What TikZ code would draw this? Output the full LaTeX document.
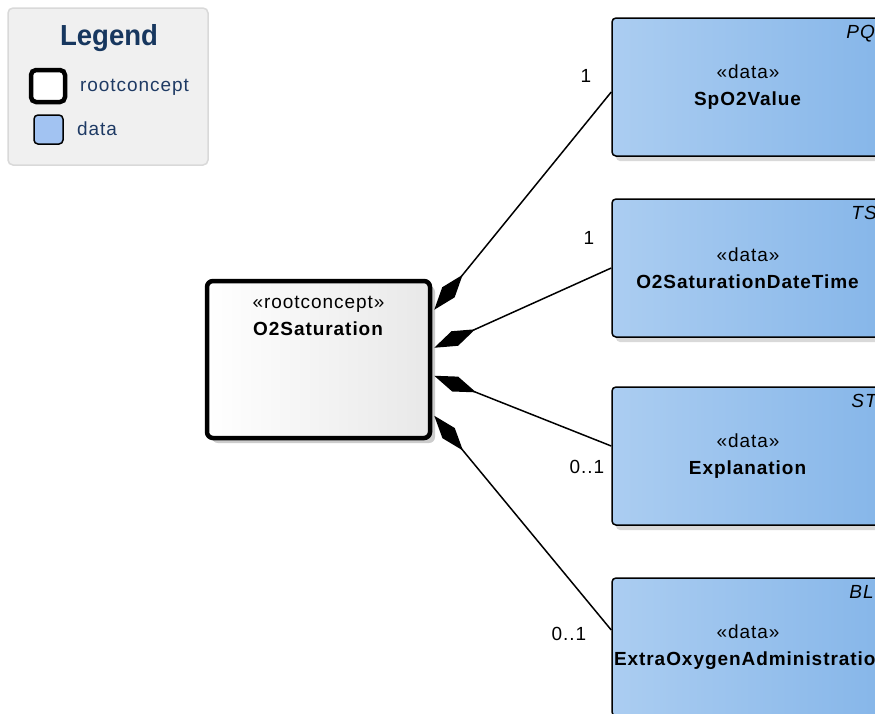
\documentclass[tikz,border=0pt]{standalone}
\usepackage{fontspec}
\setmainfont{Liberation Sans}
\newfontfamily\eafont{Liberation Sans}[LetterSpace=5]
\newfontfamily\legfont{Liberation Sans}[FakeStretch=0.95]
\usetikzlibrary{arrows.meta,shadows,calc}
\definecolor{datalight}{HTML}{ABCDF1}
\definecolor{datadark}{HTML}{86B6E9}
\definecolor{legblue}{HTML}{1E3A64}
\definecolor{legtitle}{HTML}{17375F}
\definecolor{leggray}{HTML}{F0F0F0}
\begin{document}
\begin{tikzpicture}[x=1pt,y=-1pt,
  txt/.style={font=\eafont\fontsize{19}{27}\selectfont,inner sep=0pt},
  databox/.style={txt,draw,line width=1.5pt,rounded corners=4pt,inner xsep=2pt,text width=268pt,minimum height=138pt,align=center,left color=datalight,right color=datadark,drop shadow={shadow xshift=4pt,shadow yshift=-5pt,fill=black!15,opacity=1}},
  rootbox/.style={draw,line width=4.5pt,rounded corners=6pt,minimum width=223pt,minimum height=157pt,left color=white,right color=black!9,drop shadow={shadow xshift=5pt,shadow yshift=-5pt,fill=black!20,opacity=1}},
  kind/.style={txt,font=\eafont\itshape\fontsize{19}{20}\selectfont,anchor=north west},
  comp/.style={{Diamond[length=45pt,width=16pt]}-,line width=1.5pt}]
\useasboundingbox (0,0) rectangle (875,713);
\clip (0,0) rectangle (875,713);
\fill[white] (0,0) rectangle (875,713);
\draw[fill=leggray,draw=black!15,line width=1.5pt,rounded corners=5pt] (8,8) rectangle (208,165);
\node[font=\legfont\bfseries\fontsize{29}{30}\selectfont,text=legtitle] (legend) at (109,38) {Legend};
\draw[line width=4.5pt,fill=white,rounded corners=5pt] (31,70) rectangle (65,102);
\draw[line width=1.5pt,fill=datalight!95!blue,rounded corners=4pt] (34,115) rectangle (63,144);
\node[txt,text=legblue,anchor=west] (legroot) at (80,87) {rootconcept};
\node[txt,text=legblue,anchor=west] (legdata) at (77,129) {data};
\node[rootbox] (o2sat) at (318.5,359.5) {};
\node[txt,align=center] (o2name) at (318.5,316) {«rootconcept»\\\textbf{O2Saturation}};
\node[databox] (spo2) at (748,87) {«data»\\\textbf{SpO2Value}};
\node[databox] (o2dt) at (748,268) {«data»\\\textbf{O2SaturationDateTime}};
\node[databox] (expl) at (748,456) {«data»\\\textbf{Explanation}};
\node[databox] (extra) at (748,647) {«data»\\\textbf{ExtraOxygenAdministration}};
\node[kind] (spo2t) at ($(spo2.north west)+(235,8)$) {PQ};
\node[kind] (o2dtt) at ($(o2dt.north west)+(240,8)$) {TS};
\node[kind] (explt) at ($(expl.north west)+(240,8)$) {ST};
\node[kind] (extrat) at ($(extra.north west)+(238,8)$) {BL};
\coordinate (c1) at ($(o2sat.north east)+(2,31)$);
\coordinate (c2) at ($(o2sat.north east)+(2,69)$);
\coordinate (c3) at ($(o2sat.north east)+(2,97)$);
\coordinate (c4) at ($(o2sat.north east)+(2,137)$);
\draw[comp] (c1) -- ($(spo2.west)+(0,5)$);
\draw[comp] (c2) -- (o2dt.west);
\draw[comp] (c3) -- ($(expl.west)+(0,-10)$);
\draw[comp] (c4) -- ($(extra.west)+(0,-17)$);
\node[txt] (m1) at (586,76) {1};
\node[txt] (m2) at (589,238) {1};
\node[txt] (m3) at (587,467) {0..1};
\node[txt] (m4) at (569,634) {0..1};
\end{tikzpicture}
\end{document}
